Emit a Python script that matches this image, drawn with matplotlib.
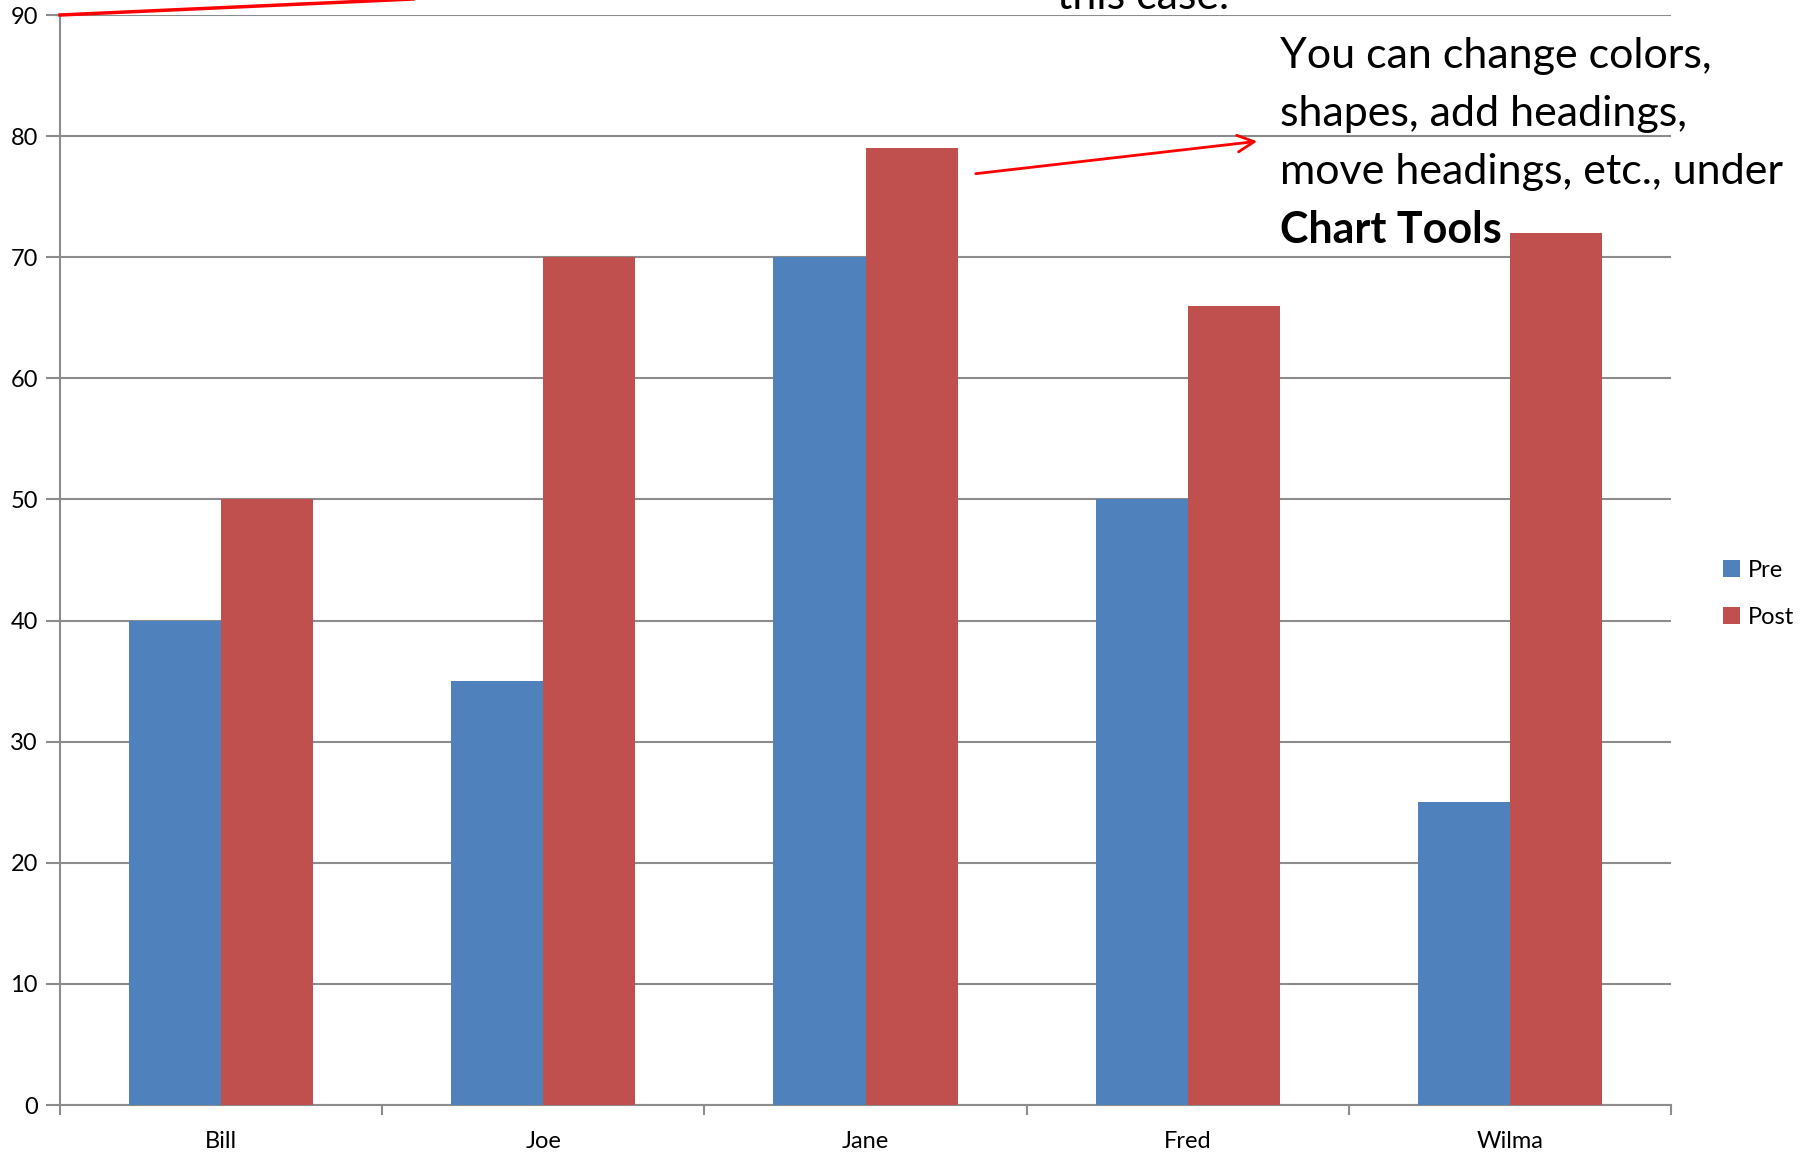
import matplotlib.pyplot as plt
import numpy as np

names = ["Bill", "Joe", "Jane", "Fred", "Wilma"]
pre = [40, 35, 70, 50, 25]
post = [50, 70, 79, 66, 72]
yticks = [0, 10, 20, 30, 40, 50, 60, 70, 80, 90]

blue = "#4F81BD"
red = "#C0504D"
grid_col = "#8C8C8C"

plt.rcParams['font.family'] = ['Lato', 'DejaVu Sans']

fig = plt.figure(figsize=(18.1, 11.52), dpi=100)
W, H = 1810, 1152
ax = fig.add_axes([60 / W, 1 - 1105 / H, 1611 / W, (1105 - 15) / H])

x = np.arange(len(names))
w = 1 / 3.5
ax.bar(x - w / 2, pre, w, color=blue, label="Pre", zorder=3)
ax.bar(x + w / 2, post, w, color=red, label="Post", zorder=3)

ax.set_xlim(-0.5, len(names) - 0.5)
ax.set_ylim(0, 90)
ax.set_yticks(yticks)
ax.yaxis.grid(True, color=grid_col, lw=1.5, zorder=0)
ax.tick_params(axis='y', length=10, width=1.5, color=grid_col, pad=6, labelsize=17)

ax.set_xticks(x)
ax.set_xticklabels(names, fontsize=17)
ax.set_xticks(np.arange(-0.5, len(names)), minor=True)
ax.tick_params(axis='x', which='major', length=0, pad=19)
ax.tick_params(axis='x', which='minor', length=7, width=1.5, color=grid_col)

for s in ["top", "right"]:
    ax.spines[s].set_visible(False)
for s in ["left", "bottom"]:
    ax.spines[s].set_color(grid_col)
    ax.spines[s].set_linewidth(1.5)

ax.legend(loc="center left", bbox_to_anchor=(1702 / W, 1 - 594 / H),
          bbox_transform=fig.transFigure, frameon=False, fontsize=17,
          handlelength=0.7, handleheight=0.7, handletextpad=0.35,
          labelspacing=1.1)

# callout text
fig.text(1057 / W, 1 - 9 / H, "this case.", fontsize=31, va="baseline")
lines = ["You can change colors,", "shapes, add headings,",
         "move headings, etc., under"]
for i, t in enumerate(lines):
    fig.text(1280 / W, 1 - (56 + 58 * i) / H, t, fontsize=31, va="center")
fig.text(1280 / W, 1 - 230 / H, "Chart Tools", fontsize=31, va="center",
         fontweight="bold")

# red arrows
fig.add_artist(plt.Line2D([60 / W, 700 / W], [1 - 15 / H, 1 + 14 / H],
                          color="red", lw=2.5, transform=fig.transFigure))
ax.annotate("", xy=(1260 / W, 1 - 141 / H), xytext=(973 / W, 1 - 174 / H),
            xycoords=fig.transFigure, textcoords=fig.transFigure,
            arrowprops=dict(arrowstyle="->", color="red", lw=2,
                            mutation_scale=30))

fig.savefig("out.png", dpi=100)
